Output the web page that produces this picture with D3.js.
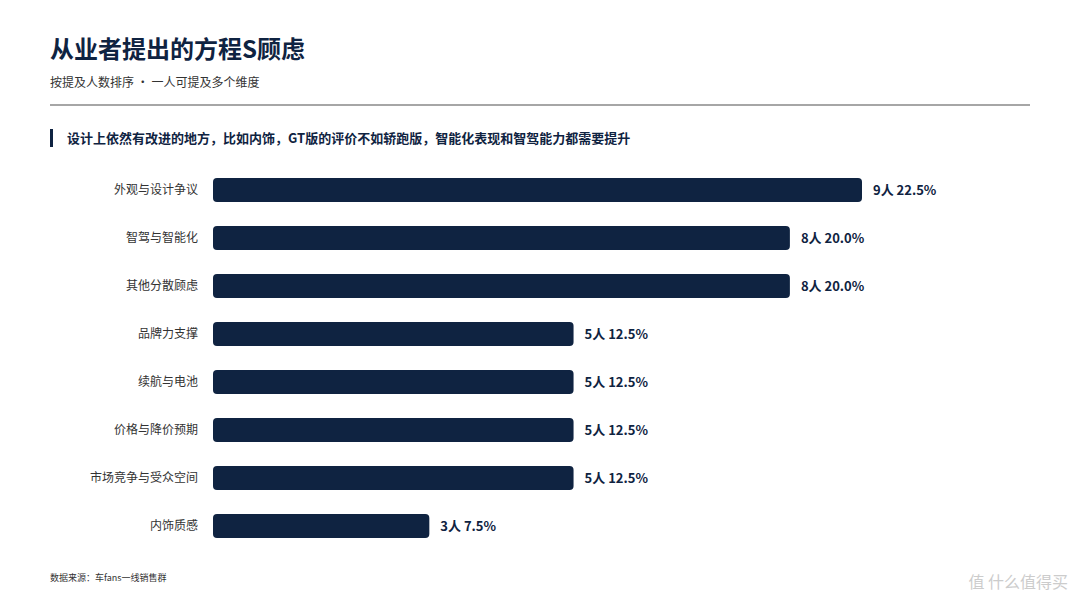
<!DOCTYPE html><html><head><meta charset="utf-8">
<script src="https://cdn.jsdelivr.net/npm/d3@7/dist/d3.min.js"></script>
<style>body{margin:0;background:#fff}</style></head><body><svg id="c" width="1080" height="608"></svg>
<script>
const categories=["外观与设计争议","智驾与智能化","其他分散顾虑","品牌力支撑","续航与电池","价格与降价预期","市场竞争与受众空间","内饰质感"];
const counts=[9,8,8,5,5,5,5,3];
const percents=["22.5%","20.0%","20.0%","12.5%","12.5%","12.5%","12.5%","7.5%"];
const F='"Noto Sans CJK SC","Noto Sans",sans-serif';
const svg=d3.select("#c").style("font-family",F);
svg.append("text").attr("x",50).attr("y",58).attr("font-size",24).attr("font-weight",700).attr("fill","#0f2341").text("从业者提出的方程S顾虑");
svg.append("text").attr("x",50).attr("y",87).attr("font-size",12).attr("fill","#333").text("按提及人数排序 · 一人可提及多个维度");
svg.append("line").attr("x1",50).attr("x2",1030).attr("y1",105).attr("y2",105).attr("stroke","#888").attr("stroke-width",1.5);
svg.append("rect").attr("x",50).attr("y",129).attr("width",3).attr("height",18).attr("fill","#0f2341");
svg.append("text").attr("x",67).attr("y",143).attr("font-size",13).attr("font-weight",700).attr("fill","#0f2341").text("设计上依然有改进的地方，比如内饰，GT版的评价不如轿跑版，智能化表现和智驾能力都需要提升");
const x=d3.scaleLinear().domain([0,9]).range([213,862]);
const y=d3.scaleBand().domain(categories).range([166,550]).paddingInner(0.5).paddingOuter(0.25);
const g=svg.append("g");
categories.forEach((c,i)=>{
 const yy=y(c),h=y.bandwidth();
 g.append("rect").attr("x",x(0)).attr("y",yy).attr("width",x(counts[i])-x(0)).attr("height",h).attr("rx",4).attr("fill","#0f2341");
 g.append("text").attr("x",198).attr("y",yy+h/2).attr("dy","0.35em").attr("text-anchor","end").attr("font-size",12).attr("fill","#333").text(c);
 g.append("text").attr("x",x(counts[i])+11).attr("y",yy+h/2).attr("dy","0.35em").attr("font-size",13).attr("font-weight",700).attr("fill","#0f2341").text(counts[i]+"人 "+percents[i]);
});
svg.append("text").attr("x",50).attr("y",581).attr("font-size",9).attr("fill","#333").text("数据来源：车fans一线销售群");
svg.append("text").attr("x",1068).attr("y",588).attr("text-anchor","end").attr("font-size",16).attr("fill","#ccc").text("值 什么值得买");
</script></body></html>
